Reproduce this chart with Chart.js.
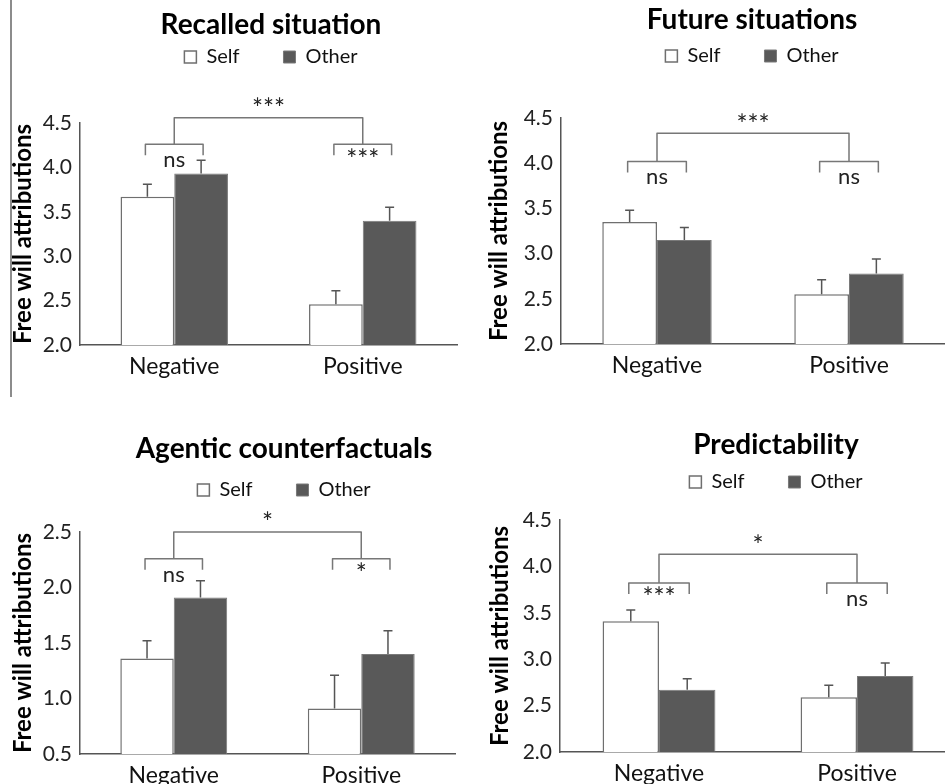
<!DOCTYPE html>
<html>
<head>
<meta charset="utf-8">
<script src="https://cdn.jsdelivr.net/npm/chart.js@4.4.1/dist/chart.umd.min.js"></script>
<style>
  html, body { margin: 0; padding: 0; overflow: hidden; background: #fff; }
  body { position: relative; width: 945px; height: 784px; }
  .panel { position: absolute; }
  #rule { position: absolute; left: 10px; top: 0; width: 2px; height: 397px; background: #8c8c8c; }
</style>
</head>
<body>
<div id="rule"></div>
<canvas class="panel" id="recalled"></canvas>
<canvas class="panel" id="future"></canvas>
<canvas class="panel" id="agentic"></canvas>
<canvas class="panel" id="predict"></canvas>

<script>
var categories = ["Negative", "Positive"];

// Recalled situation
var recalledSelf = [3.67, 2.46];
var recalledOther = [3.93, 3.40];
var recalledSelfErr = [0.14, 0.15];
var recalledOtherErr = [0.15, 0.15];
var recalledSig = ["ns", "***"];
var recalledMainSig = "***";

// Future situations
var futureSelf = [3.35, 2.55];
var futureOther = [3.15, 2.78];
var futureSelfErr = [0.13, 0.16];
var futureOtherErr = [0.14, 0.16];
var futureSig = ["ns", "ns"];
var futureMainSig = "***";

// Agentic counterfactuals
var agenticSelf = [1.36, 0.91];
var agenticOther = [1.91, 1.40];
var agenticSelfErr = [0.16, 0.30];
var agenticOtherErr = [0.15, 0.21];
var agenticSig = ["ns", "*"];
var agenticMainSig = "*";

// Predictability
var predictSelf = [3.41, 2.59];
var predictOther = [2.67, 2.82];
var predictSelfErr = [0.12, 0.13];
var predictOtherErr = [0.12, 0.14];
var predictSig = ["***", "ns"];
var predictMainSig = "*";

var ticksHigh = [2.0, 2.5, 3.0, 3.5, 4.0, 4.5];
var ticksLow = [0.5, 1.0, 1.5, 2.0, 2.5];

var FONT = "Lato, Carlito, 'Open Sans', sans-serif";
Chart.defaults.font.family = FONT;
Chart.defaults.color = '#111';

var titleSize = 28, legendSize = 20, legendPad = 4;

// draws the error bars (upper half only) on top of each bar
var errorBars = {
  id: 'errorBars',
  afterDatasetsDraw: function(chart) {
    var ctx = chart.ctx, y = chart.scales.y;
    ctx.save();
    ctx.strokeStyle = '#555';
    ctx.lineWidth = 1.5;
    chart.data.datasets.forEach(function(ds, i) {
      chart.getDatasetMeta(i).data.forEach(function(bar, j) {
        var yTop = y.getPixelForValue(ds.data[j] + ds.errors[j]);
        ctx.beginPath();
        ctx.moveTo(bar.x, bar.y);
        ctx.lineTo(bar.x, yTop);
        ctx.moveTo(bar.x - 4.5, yTop);
        ctx.lineTo(bar.x + 4.5, yTop);
        ctx.stroke();
      });
    });
    ctx.restore();
  }
};

function sigText(ctx, txt, x, y) {
  // asterisks are drawn a bit larger, like in the original figure
  ctx.font = (txt.charAt(0) === '*' ? '26px ' : '22px ') + FONT;
  ctx.fillText(txt, x, y);
}

function bracketPlugin(p) {
  return {
    id: 'brackets',
    afterDraw: function(chart) {
      var ctx = chart.ctx, y = chart.scales.y;
      var self = chart.getDatasetMeta(0).data, other = chart.getDatasetMeta(1).data;
      var low = y.getPixelForValue(p.low), high = y.getPixelForValue(p.high);
      var mids = [];
      ctx.save();
      ctx.strokeStyle = '#777';
      ctx.lineWidth = 1.5;
      ctx.lineJoin = 'round';
      ctx.fillStyle = '#222';
      ctx.textAlign = 'center';
      ctx.textBaseline = 'middle';
      for (var j = 0; j < self.length; j++) {
        var a = self[j].x - 2, b = other[j].x + 2;
        ctx.beginPath();
        ctx.moveTo(a, low + 11);
        ctx.lineTo(a, low);
        ctx.lineTo(b, low);
        ctx.lineTo(b, low + 11);
        ctx.stroke();
        sigText(ctx, p.sig[j], (a + b) / 2, low + 16);
        mids.push((a + b) / 2);
      }
      ctx.beginPath();
      ctx.moveTo(mids[0], low);
      ctx.lineTo(mids[0], high);
      ctx.lineTo(mids[1], high);
      ctx.lineTo(mids[1], low);
      ctx.stroke();
      sigText(ctx, p.main, (mids[0] + mids[1]) / 2, high - 8);
      ctx.restore();
    }
  };
}

function makePanel(id, p) {
  var canvas = document.getElementById(id);
  canvas.width = p.w;
  canvas.height = p.h;
  canvas.style.left = p.left + 'px';
  canvas.style.top = p.top + 'px';

  var halfTitle = titleSize * 1.2 / 2;
  var legendTop = p.legendY - legendPad - legendSize / 2;
  var legendH = p.chartTop - legendTop;

  // stretch the legend box so the plot starts lower
  var legendSpace = {
    id: 'legendSpace',
    beforeInit: function(chart) {
      var fit = chart.legend.fit;
      chart.legend.fit = function() {
        fit.bind(chart.legend)();
        this.height = legendH;
      };
    }
  };

  new Chart(canvas, {
    type: 'bar',
    data: {
      labels: categories,
      datasets: [{
        label: 'Self',
        data: p.self,
        errors: p.selfErr,
        backgroundColor: '#ffffff',
        borderColor: '#6f6f6f',
        borderWidth: 1.5
      }, {
        label: 'Other',
        data: p.other,
        errors: p.otherErr,
        backgroundColor: '#595959',
        borderColor: '#7a7a7a',
        borderWidth: 1
      }]
    },
    options: {
      responsive: false,
      animation: false,
      devicePixelRatio: 1,
      categoryPercentage: 0.57,
      barPercentage: 1.0,
      layout: { padding: 0 },
      plugins: {
        title: {
          display: true,
          text: p.title,
          color: '#000',
          font: { size: titleSize, weight: 'bold' },
          padding: { top: p.titleY - halfTitle, bottom: legendTop - (p.titleY + halfTitle) }
        },
        legend: {
          display: true,
          labels: {
            boxWidth: 12,
            boxHeight: 12,
            padding: legendPad,
            color: '#111',
            font: { size: legendSize },
            generateLabels: function(chart) {
              var items = Chart.defaults.plugins.legend.labels.generateLabels(chart);
              items[0].text = items[0].text + '\u2002\u2002\u2002\u2002';
              return items;
            }
          }
        },
        tooltip: { enabled: false }
      },
      scales: {
        x: {
          grid: { display: false, drawTicks: false },
          border: { display: true, color: '#555', width: 1.5 },
          ticks: { color: '#111', font: { size: 23 }, padding: 8 },
          afterFit: function(s) { s.height = p.h - p.chartBottom; }
        },
        y: {
          min: p.ticks[0],
          max: p.ticks[p.ticks.length - 1],
          grid: { display: false, drawTicks: false },
          border: { display: true, color: '#555', width: 1.5 },
          ticks: {
            color: '#222',
            font: { size: 21 },
            padding: 8,
            callback: function(v) { return Number(v).toFixed(1); }
          },
          afterBuildTicks: function(s) {
            s.ticks = p.ticks.map(function(v) { return { value: v }; });
          },
          title: {
            display: true,
            text: 'Free will attributions',
            color: '#000',
            font: { size: 24, weight: 'bold' },
            padding: { top: p.yTitleX - 14.4, bottom: 0 }
          },
          afterFit: function(s) { s.width = p.chartLeft; }
        },
        yR: {
          position: 'right',
          display: true,
          grid: { display: false, drawTicks: false },
          border: { display: false },
          ticks: { display: false },
          afterFit: function(s) { s.width = p.w - p.chartRight; }
        }
      }
    },
    plugins: [legendSpace, errorBars, bracketPlugin(p)]
  });
}

makePanel('recalled', {
  left: 0, top: 0, w: 542, h: 392,
  chartLeft: 80, chartRight: 457, chartTop: 123, chartBottom: 345,
  titleY: 25, legendY: 57, yTitleX: 23,
  title: 'Recalled situation',
  self: recalledSelf, other: recalledOther, selfErr: recalledSelfErr, otherErr: recalledOtherErr,
  ticks: ticksHigh, sig: recalledSig, main: recalledMainSig, low: 4.26, high: 4.56
});

makePanel('future', {
  left: 472, top: 0, w: 560, h: 392,
  chartLeft: 89, chartRight: 473, chartTop: 118, chartBottom: 344,
  titleY: 20, legendY: 56, yTitleX: 27,
  title: 'Future situations',
  self: futureSelf, other: futureOther, selfErr: futureSelfErr, otherErr: futureOtherErr,
  ticks: ticksHigh, sig: futureSig, main: futureMainSig, low: 4.02, high: 4.33
});

makePanel('agentic', {
  left: 0, top: 392, w: 568, h: 410,
  chartLeft: 80, chartRight: 455, chartTop: 140, chartBottom: 362,
  titleY: 57, legendY: 98, yTitleX: 23,
  title: 'Agentic counterfactuals',
  self: agenticSelf, other: agenticOther, selfErr: agenticSelfErr, otherErr: agenticOtherErr,
  ticks: ticksLow, sig: agenticSig, main: agenticMainSig, low: 2.26, high: 2.5
});

makePanel('predict', {
  left: 472, top: 392, w: 608, h: 410,
  chartLeft: 88, chartRight: 484, chartTop: 128, chartBottom: 360,
  titleY: 53, legendY: 90, yTitleX: 28,
  title: 'Predictability',
  self: predictSelf, other: predictOther, selfErr: predictSelfErr, otherErr: predictOtherErr,
  ticks: ticksHigh, sig: predictSig, main: predictMainSig, low: 3.82, high: 4.13
});
</script>
</body>
</html>
